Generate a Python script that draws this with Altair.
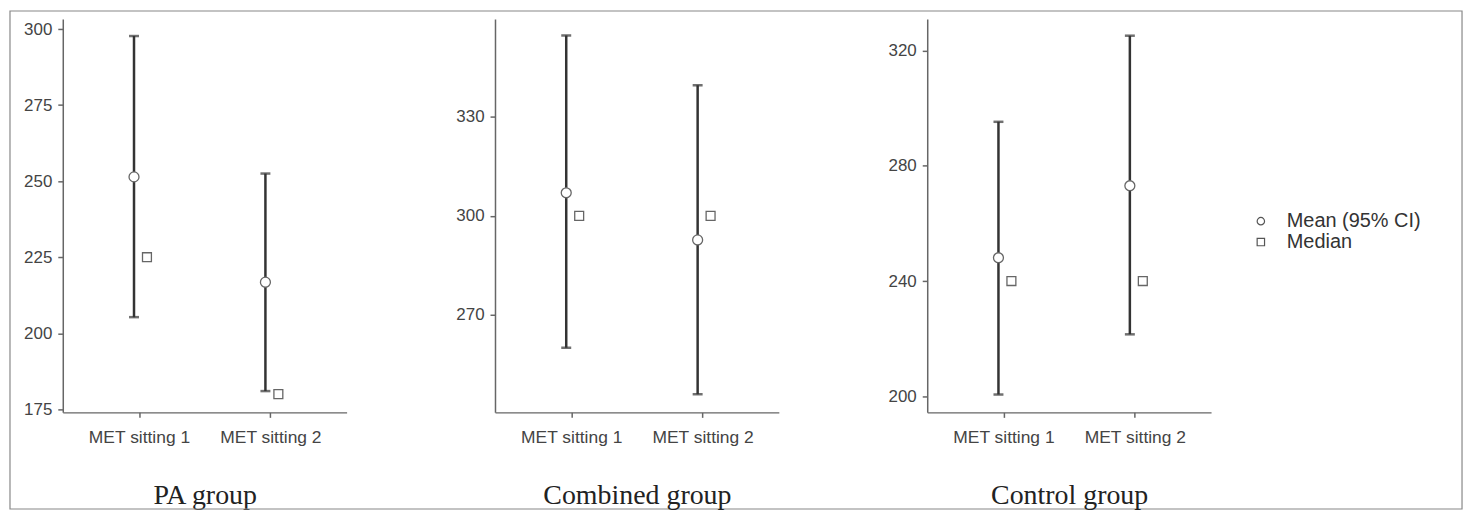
import altair as alt
import pandas as pd

sittings = ["MET sitting 1", "MET sitting 2"]
groups = ["PA group", "Combined group", "Control group"]
stat_labels = ["Mean (95% CI)", "Median"]

pa_mean = [251.4, 216.8]
pa_lo = [205.3, 181.0]
pa_hi = [297.7, 252.5]
pa_med = [225, 180]

comb_mean = [307.0, 292.7]
comb_lo = [260.0, 245.9]
comb_hi = [354.7, 339.6]
comb_med = [300, 300]

ctrl_mean = [248.1, 273.1]
ctrl_lo = [200.6, 221.5]
ctrl_hi = [295.3, 325.2]
ctrl_med = [240, 240]

pa_domain = [174.0, 303.3]
comb_domain = [240.4, 359.7]
ctrl_domain = [194.4, 331.0]

pa_ticks = [175, 200, 225, 250, 275, 300]
comb_ticks = [270, 300, 330]
ctrl_ticks = [200, 240, 280, 320]

W = 285
H = 395
BAR = "#333333"
PT = "#666666"

shape_scale = alt.Scale(domain=stat_labels, range=["circle", "square"])


def panel(name, mean, lo, hi, med, domain, ticks, frame=False):
    df = pd.DataFrame({"sitting": sittings, "value": mean, "lo": lo, "hi": hi,
                       "stat": stat_labels[0]})
    dm = pd.DataFrame({"sitting": sittings, "value": med, "stat": stat_labels[1]})
    base = alt.Chart(df)
    x = alt.X("sitting:N", sort=sittings,
              scale=alt.Scale(type="point", padding=0.58),
              axis=alt.Axis(title=name, labelAngle=0))
    ysc = alt.Scale(domain=domain, nice=False, zero=False)
    yax = alt.Axis(values=ticks, title=None, grid=False)
    rule = base.mark_rule(xOffset=-5, strokeWidth=2.5, color=BAR).encode(
        x=x, y=alt.Y("lo:Q", scale=ysc, axis=yax), y2="hi:Q")
    cap_lo = base.mark_tick(xOffset=-5, size=10, thickness=2.5, color=BAR).encode(
        x=x, y=alt.Y("lo:Q", scale=ysc, axis=yax))
    cap_hi = base.mark_tick(xOffset=-5, size=10, thickness=2.5, color=BAR).encode(
        x=x, y=alt.Y("hi:Q", scale=ysc, axis=yax))
    pts = base.mark_point(xOffset=-5, shape="circle", fill="white", stroke=PT,
                          fillOpacity=1, strokeWidth=1.3, size=100, opacity=1).encode(
        x=x, y=alt.Y("value:Q", scale=ysc, axis=yax))
    meds = alt.Chart(dm).mark_point(xOffset=8, shape="square", fill="white", stroke=PT,
                                    fillOpacity=1, strokeWidth=1.3, size=80, opacity=1).encode(
        x=x, y=alt.Y("value:Q", scale=ysc, axis=yax))
    layers = [rule, cap_lo, cap_hi, pts, meds]
    if frame:
        fr = alt.Chart(pd.DataFrame({"f": [0]})).mark_rect(
            fill="transparent", stroke="#888888", strokeWidth=1.2).encode(
            x=alt.value(-53), x2=alt.value(1405), y=alt.value(-8), y2=alt.value(492))
        layers = [fr] + layers
    return alt.layer(*layers).properties(width=W, height=H)


def legend_layer():
    ld = pd.DataFrame({"stat": stat_labels})
    lb = alt.Chart(ld)
    ly = alt.Y("stat:N", sort=stat_labels,
               scale=alt.Scale(type="point", domain=stat_labels, range=[203, 224],
                               padding=0),
               axis=None)
    sym = lb.mark_point(fill="white", stroke="#555555", fillOpacity=1, strokeWidth=1.2,
                        size=55, opacity=1).encode(
        x=alt.value(335), y=ly,
        shape=alt.Shape("stat:N", scale=shape_scale, legend=None))
    txt = lb.mark_text(align="left", baseline="middle", font="Liberation Sans",
                       fontSize=20, color="#333333").encode(
        x=alt.value(361), y=ly, text="stat:N")
    return alt.layer(sym, txt)


p1 = panel(groups[0], pa_mean, pa_lo, pa_hi, pa_med, pa_domain, pa_ticks, frame=True)
p2 = panel(groups[1], comb_mean, comb_lo, comb_hi, comb_med, comb_domain, comb_ticks)
p3core = panel(groups[2], ctrl_mean, ctrl_lo, ctrl_hi, ctrl_med, ctrl_domain, ctrl_ticks)
p3 = alt.layer(p3core, legend_layer()).resolve_scale(y="independent").properties(
    width=W, height=H)

chart = alt.hconcat(p1, p2, p3, spacing=149, bounds="flush").resolve_scale(
    y="independent", x="independent"
).properties(
    padding={"left": 1, "top": 1, "right": 5, "bottom": 2}
).configure_view(stroke=None).configure_axis(
    labelFont="Liberation Sans", labelColor="#444444", labelFontSize=17,
    domainColor="#666666", domainWidth=1.5, tickColor="#666666", tickWidth=1.5,
    tickSize=5, labelPadding=6,
    titleFont="Liberation Serif", titleFontSize=28, titleFontWeight="normal",
    titleColor="#222222",
).configure_axisX(
    labelPadding=11, titlePadding=36, labelFontSize=17.5,
)

chart.save("out.html", embed_options={"renderer": "svg", "actions": False})
